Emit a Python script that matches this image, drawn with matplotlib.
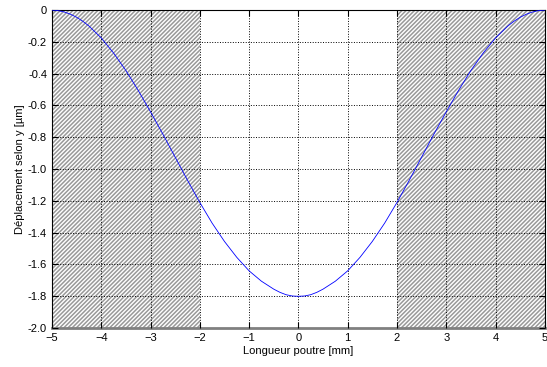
import matplotlib.pyplot as plt
import matplotlib as mpl

plt.rcParams['font.family'] = ['Liberation Sans', 'DejaVu Sans']
plt.rcParams['hatch.color'] = '#999999'
plt.rcParams['hatch.linewidth'] = 1.1

# beam deflection
x = [-5, -4.875, -4.75, -4.625, -4.5, -4.375, -4.25, -4, -3.75, -3.5, -3.25, -3, -2.75, -2.5, -2.25, -2,
     -1.75, -1.5, -1.25, -1, -0.75, -0.5, -0.375, -0.25, -0.125, 0,
     0.125, 0.25, 0.375, 0.5, 0.75, 1, 1.25, 1.5, 1.75, 2, 2.25, 2.5, 2.75, 3, 3.25, 3.5,
     3.75, 4, 4.25, 4.375, 4.5, 4.625, 4.75, 4.875, 5]
y = [0, -0.003, -0.012, -0.026, -0.045, -0.07, -0.10, -0.175, -0.27, -0.38, -0.505, -0.64, -0.78, -0.925, -1.07, -1.21,
     -1.34, -1.455, -1.555, -1.64, -1.705, -1.755, -1.775, -1.79, -1.798, -1.80,
     -1.798, -1.79, -1.775, -1.755, -1.705, -1.64, -1.555, -1.455, -1.34, -1.21, -1.07, -0.925, -0.78, -0.64, -0.505, -0.38,
     -0.27, -0.175, -0.10, -0.07, -0.045, -0.026, -0.012, -0.003, 0]
zones = [(-5, -2), (2, 5)]
xticks = [-5, -4, -3, -2, -1, 0, 1, 2, 3, 4, 5]
yticks = [0, -0.2, -0.4, -0.6, -0.8, -1.0, -1.2, -1.4, -1.6, -1.8, -2.0]
ylabels = ['0', '-0.2', '-0.4', '-0.6', '-0.8', '-1.0', '-1.2', '-1.4', '-1.6', '-1.8', '-2.0']

fig = plt.figure(figsize=(5.47, 3.67), dpi=100)
ax = fig.add_axes([0.095, 0.106, 0.901, 0.8665])

for a, b in zones:
    ax.axvspan(a, b, facecolor='white', edgecolor='#999999', hatch='/' * 8, linewidth=0, zorder=0)

ax.plot(x, y, color='#0000ff', linewidth=0.6, zorder=3)

ax.set_xlim(-5, 5)
ax.set_ylim(-2, 0)
ax.set_xticks(xticks)
ax.set_yticks(yticks)
ax.set_yticklabels(ylabels)
ax.grid(True, linestyle=':', color='black', linewidth=0.7, zorder=1)
ax.set_axisbelow(False)
ax.tick_params(direction='in', labelsize=8, length=4, top=True, right=True)
for s in ax.spines.values():
    s.set_linewidth(0.8)
ax.spines['bottom'].set_linewidth(2)
ax.spines['bottom'].set_color('#808080')

ax.set_xlabel('Longueur poutre [mm]', fontsize=8, labelpad=2)
ax.set_ylabel('Déplacement selon y [µm]', fontsize=8, labelpad=2)

plt.savefig('out.png', dpi=100)
